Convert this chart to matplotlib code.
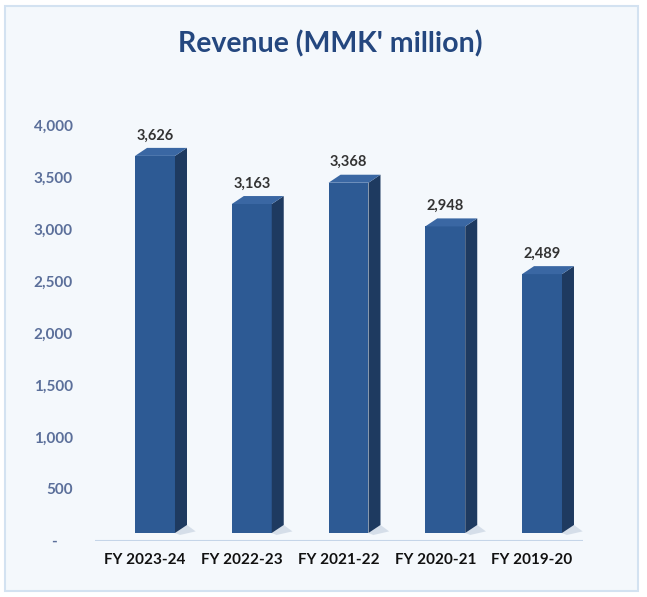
import matplotlib
matplotlib.use("Agg")
import matplotlib.pyplot as plt
import matplotlib.transforms as mtransforms
from matplotlib.patches import Polygon, Rectangle
import numpy as np

# Revenue values
years = ["FY 2023-24", "FY 2022-23", "FY 2021-22", "FY 2020-21", "FY 2019-20"]
revenue = [3626, 3163, 3368, 2948, 2489]
yticks = [0, 500, 1000, 1500, 2000, 2500, 3000, 3500, 4000]
ytick_labels = ["-    ", "500", "1,000", "1,500", "2,000", "2,500", "3,000", "3,500", "4,000"]

plt.rcParams['font.family'] = ['Lato', 'DejaVu Sans']

fig = plt.figure(figsize=(6.47, 5.97), dpi=100)
fig.patch.set_facecolor('white')

# light panel with thin blue border
fig.patches.append(Rectangle((5 / 647, 6 / 597), 633 / 647, 585 / 597,
                             transform=fig.transFigure, facecolor='#f4f8fc',
                             edgecolor='#d3e2f1', lw=1.5, zorder=-10))

ax = fig.add_axes([95 / 647, 56 / 597, 488 / 647, 416 / 597])
ax.set_facecolor('none')
ax.set_xlim(-0.517, 4.527)
ax.set_ylim(0, 4000)

# bars sit a little right of and above the category position (3D floor look)
shift = ax.transData + mtransforms.ScaledTranslation(0.10, 0.08, fig.dpi_scale_trans)
w = 0.413   # front face width
dx = 0.124  # depth to the right
dy = 77     # depth upwards
x = np.arange(len(years))

for xi, v in zip(x, revenue):
    left, right = xi - w / 2, xi + w / 2
    # soft shadow at the foot
    ax.add_patch(Polygon([(right, 0), (right + dx, dy), (right + dx + 0.09, dy * 0.2),
                          (right + 0.05, -dy * 0.25)],
                         closed=True, facecolor='#c9d4e2', edgecolor='none',
                         alpha=0.7, transform=shift, zorder=2))
    # front
    ax.add_patch(Rectangle((left, 0), w, v, facecolor='#2d5a94', edgecolor='none',
                           transform=shift, zorder=3))
    # side
    ax.add_patch(Polygon([(right, 0), (right + dx, dy), (right + dx, v + dy), (right, v)],
                         closed=True, facecolor='#1e3a60', edgecolor='none',
                         transform=shift, zorder=3))
    # top
    ax.add_patch(Polygon([(left, v), (right, v), (right + dx, v + dy), (left + dx, v + dy)],
                         closed=True, facecolor='#3a67a3', edgecolor='none',
                         transform=shift, zorder=3))
    ax.annotate(f"{v:,}", (xi, v + dy), xycoords=shift, xytext=(0, 4),
                textcoords='offset points', ha='center', va='bottom',
                fontsize=10.5, fontweight='bold', color='#333333', zorder=5)

ax.axhline(0, color='#c5d5e8', lw=1.5, zorder=1)
for s in ax.spines.values():
    s.set_visible(False)

ax.set_yticks(yticks, ytick_labels)
ax.tick_params(axis='y', length=0, pad=16, labelcolor='#5b6f9a', labelsize=11)
ax.set_xticks(x, years)
ax.tick_params(axis='x', length=0, pad=9, labelcolor='#111111', labelsize=11)
for lab in ax.get_yticklabels() + ax.get_xticklabels():
    lab.set_fontweight('bold')

fig.text(0.510, 1 - 44 / 597, "Revenue (MMK' million)", ha='center', va='center',
         fontsize=20.5, fontweight='bold', color='#24477f')

fig.savefig("out.png", dpi=100, facecolor=fig.get_facecolor())
